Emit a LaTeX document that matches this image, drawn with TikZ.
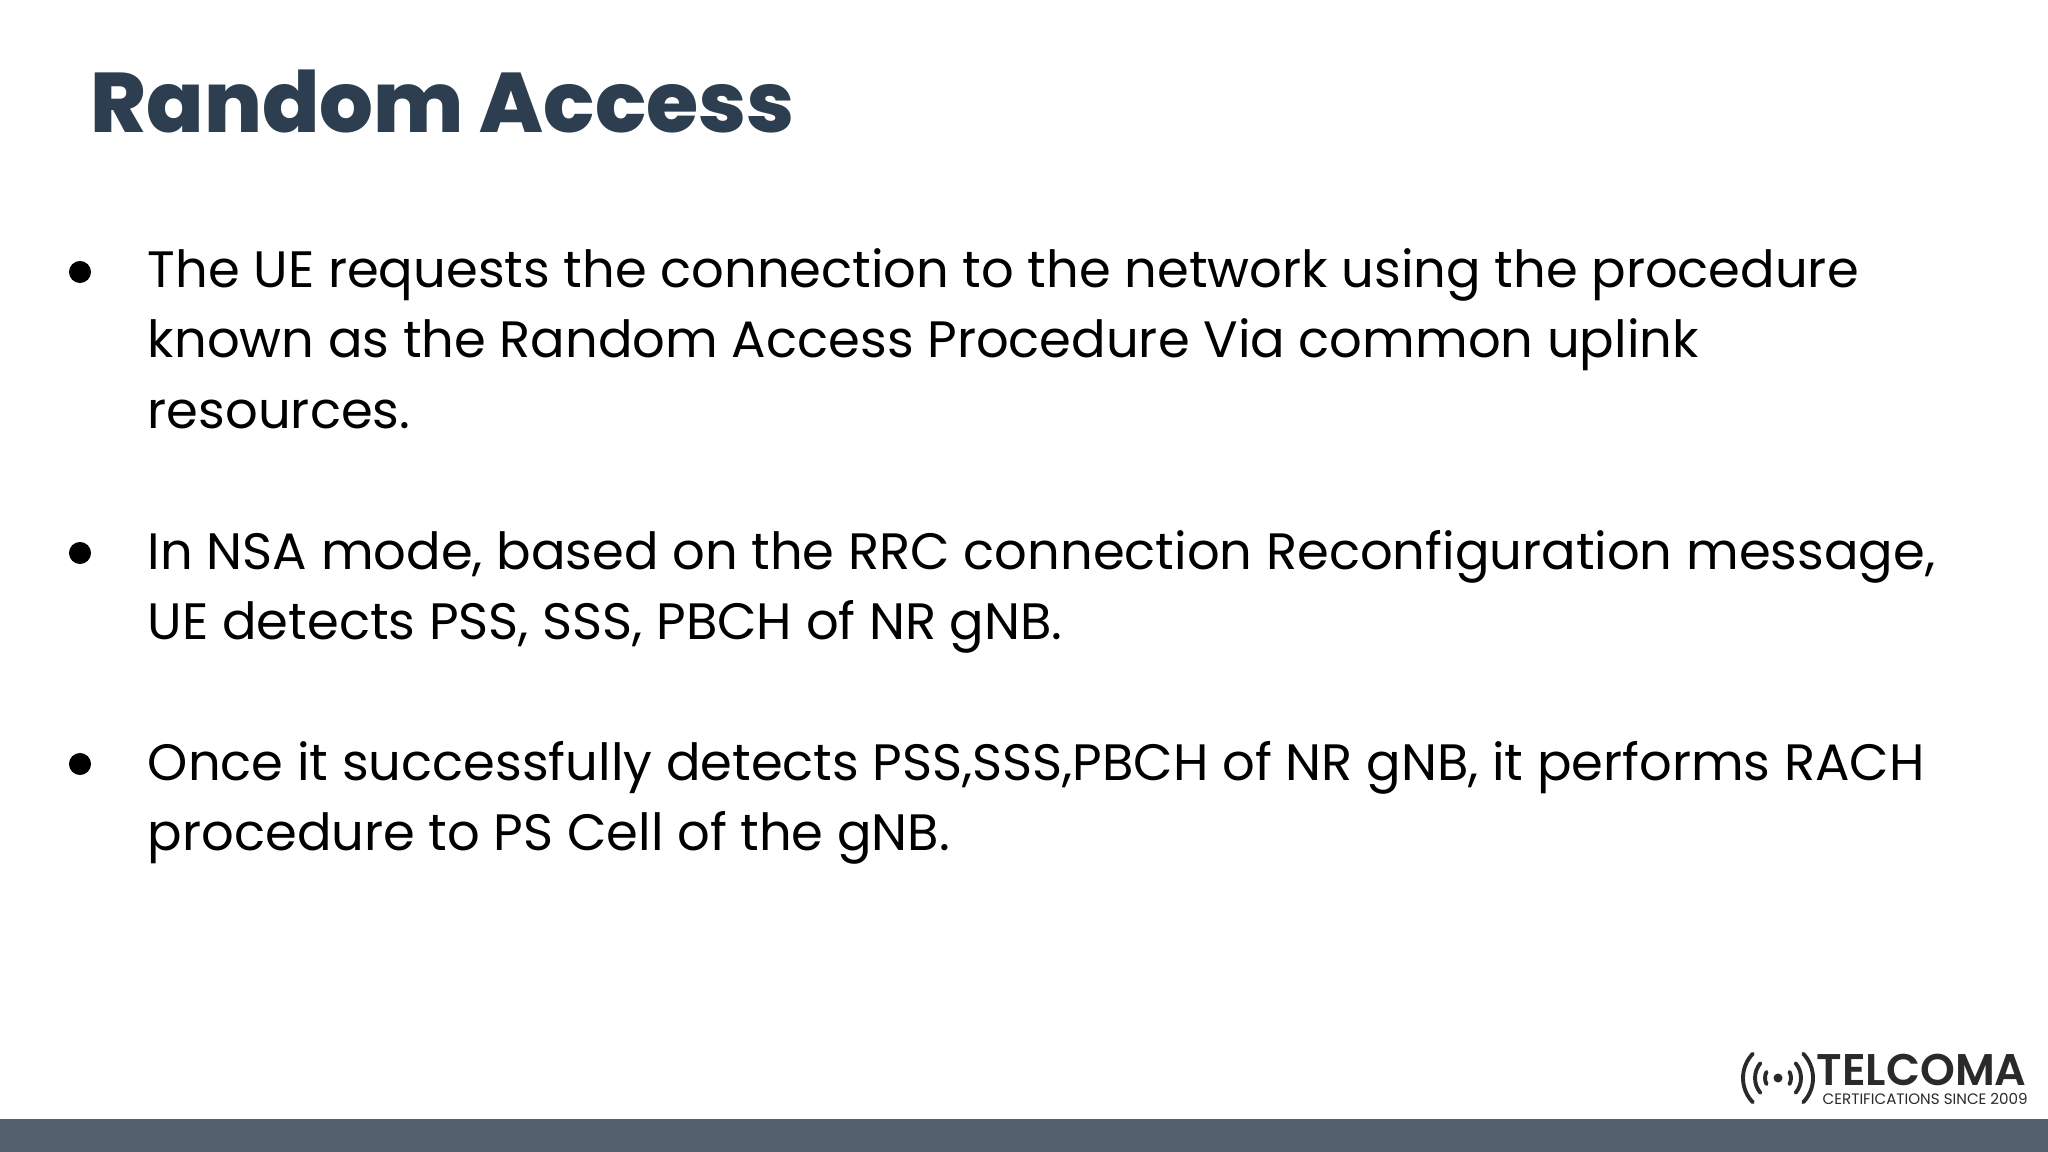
\documentclass[tikz,border=0pt]{standalone}
\usepackage{fontspec}
\setmainfont{Poppins}
\newfontfamily\headingfont{Poppins ExtraBold}
\newfontfamily\brandfont{Poppins SemiBold}
\usetikzlibrary{positioning, calc}
\definecolor{titleblue}{HTML}{2C3E50}
\definecolor{barblue}{HTML}{535F6D}
\definecolor{logoblack}{HTML}{2B2A2B}
\tikzset{
  title/.style={anchor=base west, inner sep=0pt, text=titleblue, font=\fontsize{24.05}{28}\headingfont},
  bodyline/.style={anchor=base west, inner sep=0pt, text=black, font=\fontsize{14.55}{20}\selectfont},
  bulletdot/.style={circle, fill=black, inner sep=0pt, minimum size=0.22cm},
  logoarc/.style={logoblack, line width=1.1pt, line cap=round}
}

\begin{document}
\begin{tikzpicture}[x=0.01cm, y=-0.01cm]
      \useasboundingbox (0, 0) rectangle (2048, 1152);
      \fill[white] (0, 0) rectangle (2048, 1152);
      \fill[barblue] (0, 1119) rectangle (2048, 1152);

      \node[title] (heading) at (90, 133) {Random Access};

      \node[bulletdot] (b1) at (80, 272) {};
      \node[bodyline] (l1) at (147.2, 287.4) {The UE requests the connection to the network using the procedure};
      \node[bodyline] (l2) at (147.2, 357.9) {known as the Random Access Procedure Via common uplink};
      \node[bodyline] (l3) at (147.2, 428.4) {resources.};

      \node[bulletdot] (b2) at (80, 553) {};
      \node[bodyline] (l4) at (147.2, 569.4) {In NSA mode, based on the RRC connection Reconfiguration message,};
      \node[bodyline] (l5) at (147.2, 639.9) {UE detects PSS, SSS, PBCH of NR gNB.};

      \node[bulletdot] (b3) at (80, 764) {};
      \node[bodyline] (l6) at (147.2, 780.4) {Once it successfully detects PSS,SSS,PBCH of NR gNB, it performs RACH};
      \node[bodyline] (l7) at (147.2, 850.9) {procedure to PS Cell of the gNB.};

      % logo
      \node[circle, fill=logoblack, inner sep=0pt, minimum size=0.09cm] (signal) at (1778, 1078) {};
      \foreach \r/\a in {13/28, 23/40, 35/44} {
        \draw[logoarc] ($(signal)+({180-\a}:\r)$) arc[start angle=180+\a, end angle=180-\a, radius=\r*0.01cm];
        \draw[logoarc] ($(signal)+(\a:\r)$) arc[start angle=-\a, end angle=\a, radius=\r*0.01cm];
      }
      \node[anchor=base west, inner sep=0pt, text=logoblack, font=\fontsize{12.6}{14}\brandfont] (brand) at (1816, 1085) {TELCOMA};
      \node[anchor=base west, inner sep=0pt, text=logoblack, font=\fontsize{4.3}{6}\selectfont] (tagline) at (1822, 1104) {CERTIFICATIONS SINCE 2009};
    \end{tikzpicture}
\end{document}
